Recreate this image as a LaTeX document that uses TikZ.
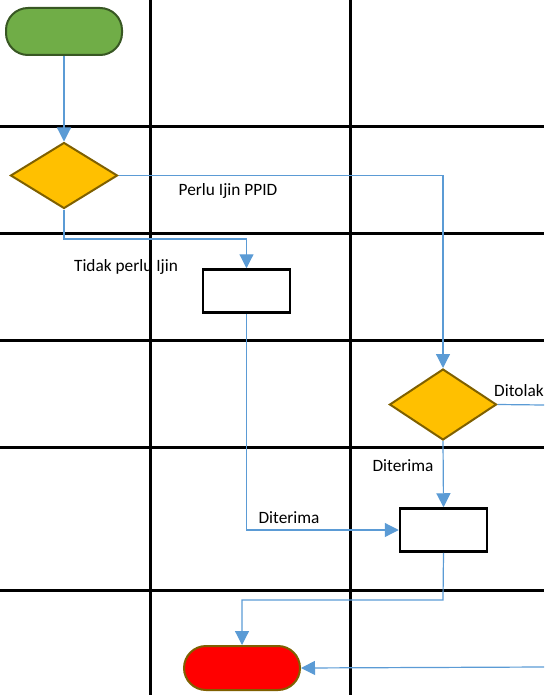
\documentclass[tikz,border=0pt]{standalone}
\usepackage{fontspec}
\setmainfont{Carlito}
\usetikzlibrary{shapes.geometric,arrows.meta}
\definecolor{connblue}{HTML}{5B9BD5}
\definecolor{gfill}{HTML}{70AD47}
\definecolor{gline}{HTML}{385723}
\definecolor{yfill}{HTML}{FFC000}
\definecolor{yline}{HTML}{7F6000}
\tikzset{
  grid line/.style={line width=3pt,black},
  link/.style={draw=connblue,line width=1.2pt},
  arr/.style={draw=connblue,line width=1.2pt,-{Triangle[length=14pt,width=14pt,fill=connblue]}},
  terminal/.style={rectangle,rounded corners=22pt,line width=2pt,minimum width=116pt,minimum height=46pt,inner sep=0pt},
  decision/.style={diamond,fill=yfill,draw=yline,line width=2pt,inner sep=0pt,minimum width=107pt,minimum height=66pt},
  process/.style={rectangle,draw=black,fill=white,line width=2.5pt,minimum width=87pt,minimum height=43pt,inner sep=0pt},
  lbl/.style={font=\fontsize{17.3pt}{19pt}\selectfont,inner sep=0pt,anchor=center}
}
\begin{document}
\begin{tikzpicture}[x=1pt,y=-1pt]
\useasboundingbox (0,0) rectangle (544,695);
% grid
\foreach \yy in {127,233,340,447,590} \draw[grid line] (0,\yy) -- (544,\yy);
\foreach \xx in {150,350} \draw[grid line] (\xx,0) -- (\xx,695);
% nodes
\node[terminal,fill=gfill,draw=gline,minimum height=47pt] (start) at (64,31.5) {};
\node[decision] (d1) at (64,175.5) {};
\node[process] (b1) at (246.5,291) {};
\node[decision,minimum height=71pt] (d2) at (443,404.5) {};
\node[process] (b2) at (443.5,530) {};
\node[terminal,fill=red,draw=yline,minimum height=44pt] (end) at (242,668) {};
\coordinate (c1) at (64,239);
\coordinate (c2) at (443,600);
\coordinate (r1) at (544,405);
\coordinate (r2) at (544,667);
% connectors
\draw[arr] (start.south) -- (d1.north);
\draw[arr] (d1.east) -| (d2.north);
\draw[arr] (d1.south) -- (c1) -| (b1.north);
\draw[arr] (b1.south) |- (b2.west);
\draw[arr] (d2.south) -- (b2.north);
\draw[arr] (b2.south) -- (c2) -| (end.north);
\draw[link] (d2.east) -- (r1);
\draw[arr] (r2) -- (end.east);
% labels
\node[lbl] (l1) at (228,191) {Perlu Ijin PPID};
\node[lbl] (l2) at (126,267) {Tidak perlu Ijin};
\node[lbl] (l3) at (289,518) {Diterima};
\node[lbl] (l4) at (403,466) {Diterima};
\node[lbl,anchor=west] (l5) at (494,391) {Ditolak};
\end{tikzpicture}
\end{document}
